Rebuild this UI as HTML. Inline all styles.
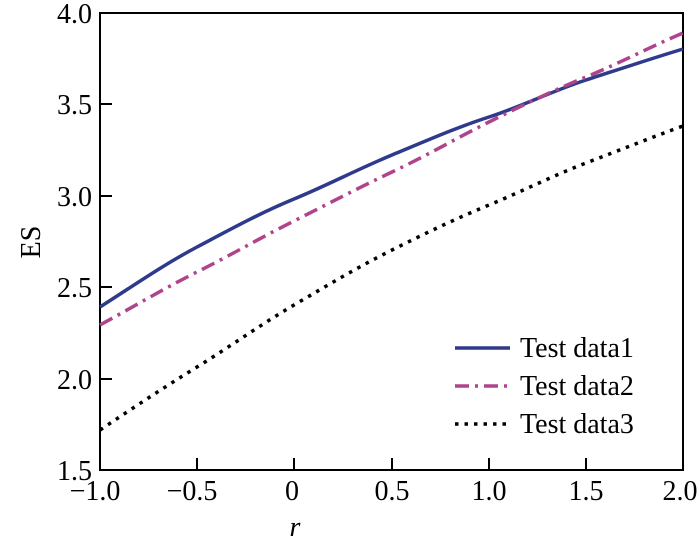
<!DOCTYPE html>
<html><head><style>body{margin:0;background:#fff}</style></head><body>
<svg width="700" height="537" xmlns="http://www.w3.org/2000/svg" font-family="Liberation Serif, serif" font-size="28">
<rect x="100" y="13" width="583" height="457" fill="none" stroke="#000" stroke-width="2"/>
<g stroke="#000" stroke-width="2">
<line x1="197" y1="470" x2="197" y2="458"/><line x1="294" y1="470" x2="294" y2="458"/><line x1="392" y1="470" x2="392" y2="458"/><line x1="489" y1="470" x2="489" y2="458"/><line x1="586" y1="470" x2="586" y2="458"/>
<line x1="100" y1="379" x2="112" y2="379"/><line x1="100" y1="287" x2="112" y2="287"/><line x1="100" y1="196" x2="112" y2="196"/><line x1="100" y1="104" x2="112" y2="104"/>
</g>
<g text-anchor="middle">
<text x="95" y="500">−1.0</text><text x="192" y="500">−0.5</text><text x="292" y="500">0</text><text x="392" y="500">0.5</text><text x="489" y="500">1.0</text><text x="586" y="500">1.5</text><text x="680" y="500">2.0</text>
<text x="295" y="536" font-style="italic">r</text>
</g>
<g text-anchor="end">
<text x="92" y="480">1.5</text><text x="92" y="389">2.0</text><text x="92" y="297">2.5</text><text x="92" y="206">3.0</text><text x="92" y="114">3.5</text><text x="92" y="23">4.0</text>
</g>
<text x="40" y="242" text-anchor="middle" transform="rotate(-90 40 242)">ES</text>
<path d="M100,307 C133,286 163,265 197,247 S260,213 294,199 S358,169 392,155 S455,128 489,117 S552,91 586,80 S650,59 683,49" fill="none" stroke="#2e3a8c" stroke-width="3.5"/>
<path d="M100,325 C133,307 163,289 197,272 S260,238 294,221 S358,188 392,172 S455,139 489,122 S552,91 586,77 S650,47 683,33" fill="none" stroke="#b0448c" stroke-width="3.5" stroke-dasharray="14,6,3,6"/>
<path d="M100,430 C133,408 163,388 197,367 S260,325 294,305 S358,267 392,250 S455,219 489,205 S552,176 586,163 S650,138 683,126" fill="none" stroke="#000" stroke-width="3.5" stroke-dasharray="3.5,6"/>
<line x1="455" y1="348" x2="510" y2="348" stroke="#2e3a8c" stroke-width="3.5"/>
<line x1="455" y1="386" x2="510" y2="386" stroke="#b0448c" stroke-width="3.5" stroke-dasharray="14,6,3,6"/>
<line x1="455" y1="424" x2="510" y2="424" stroke="#000" stroke-width="3.5" stroke-dasharray="3.5,6"/>
<text x="520" y="357">Test data1</text><text x="520" y="395">Test data2</text><text x="520" y="433">Test data3</text>
</svg>
</body></html>
